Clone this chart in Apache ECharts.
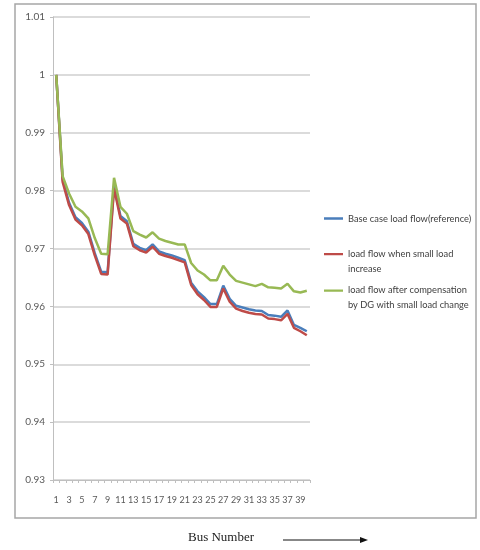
<!DOCTYPE html>
<html>
<head>
<meta charset="utf-8">
<script src="https://cdn.jsdelivr.net/npm/echarts@6/dist/echarts.min.js"></script>
<style>
html,body{margin:0;padding:0;background:#fff;}
#chart{width:480px;height:550px;}
</style>
</head>
<body>
<div id="chart"></div>
<script>
var buses = [];
for (var i = 1; i <= 40; i++) buses.push(String(i));

var baseCase = [1.0000, 0.9820, 0.9779, 0.9754, 0.9744, 0.9729, 0.9692, 0.9660, 0.9659, 0.9808,
                0.9756, 0.9747, 0.9708, 0.9701, 0.9697, 0.9707, 0.9695, 0.9691, 0.9688, 0.9684,
                0.9680, 0.9641, 0.9626, 0.9616, 0.9604, 0.9604, 0.9636, 0.9613, 0.9601, 0.9598,
                0.9595, 0.9593, 0.9592, 0.9585, 0.9584, 0.9582, 0.9593, 0.9568, 0.9563, 0.9557];

var smallLoadIncrease = [1.0000, 0.9815, 0.9775, 0.9750, 0.9740, 0.9725, 0.9688, 0.9656, 0.9655, 0.9804,
                0.9752, 0.9743, 0.9704, 0.9697, 0.9693, 0.9703, 0.9691, 0.9687, 0.9684, 0.9680,
                0.9676, 0.9637, 0.9621, 0.9611, 0.9599, 0.9599, 0.9631, 0.9608, 0.9596, 0.9592,
                0.9589, 0.9587, 0.9586, 0.9579, 0.9578, 0.9576, 0.9587, 0.9563, 0.9557, 0.9550];

var withDG = [1.0000, 0.9825, 0.9795, 0.9772, 0.9764, 0.9752, 0.9718, 0.9691, 0.9690, 0.9822,
                0.9772, 0.9760, 0.9730, 0.9724, 0.9719, 0.9728, 0.9717, 0.9713, 0.9710, 0.9707,
                0.9707, 0.9675, 0.9662, 0.9655, 0.9645, 0.9645, 0.9670, 0.9655, 0.9644, 0.9641,
                0.9638, 0.9635, 0.9639, 0.9633, 0.9632, 0.9631, 0.9639, 0.9626, 0.9624, 0.9627];

var seriesNames = [
  'Base case load flow(reference)',
  'load flow when small load\nincrease',
  'load flow after compensation\nby DG with small load change'
];
var seriesColors = ['#4a7ebb', '#be4b48', '#98b954'];

var yMin = 0.93, yMax = 1.01, yStep = 0.01;
var xTitle = 'Bus Number';

var chart = echarts.init(document.getElementById('chart'), null, {renderer: 'canvas'});

var legendText = {fontFamily: 'Lato', fontSize: 9.3, color: '#404040', lineHeight: 15};
// line icon drawn at the top of a taller box so it lines up with the first text line
var topLineIcon = 'path://M0,0L20,0L20,2.5L0,2.5Z M0,17L0.001,17L0.001,17.001Z';

var option = {
  animation: false,
  backgroundColor: '#fff',
  title: {
    text: xTitle,
    left: 188, top: 531, padding: 0,
    textStyle: {fontFamily: 'Liberation Serif', fontSize: 13, fontWeight: 'normal', color: '#222'}
  },
  grid: {left: 53, right: 170, top: 17, bottom: 70},
  legend: [
    {data: [seriesNames[0]], top: 211, left: 324, padding: 0, itemWidth: 19, itemHeight: 2.5,
     icon: 'rect', textStyle: legendText},
    {data: [seriesNames[1]], top: 246, left: 324, padding: 0, itemWidth: 19, itemHeight: 17,
     icon: topLineIcon, textStyle: legendText},
    {data: [seriesNames[2]], top: 282.5, left: 324, padding: 0, itemWidth: 19, itemHeight: 17,
     icon: topLineIcon, textStyle: legendText}
  ],
  xAxis: {
    type: 'category',
    data: buses,
    boundaryGap: true,
    axisLine: {lineStyle: {color: '#bfbfbf', width: 1}},
    axisTick: {show: true, interval: 0, length: 3, lineStyle: {color: '#bfbfbf'}},
    axisLabel: {interval: 1, margin: 16, fontFamily: 'Lato', fontSize: 9, color: '#595959'},
    splitLine: {show: false}
  },
  yAxis: {
    type: 'value',
    min: yMin, max: yMax, interval: yStep,
    axisLine: {show: true, lineStyle: {color: '#bfbfbf', width: 1}},
    axisTick: {show: true, length: 3, lineStyle: {color: '#bfbfbf'}},
    axisLabel: {
      margin: 8, fontFamily: 'Lato', fontSize: 10, color: '#595959',
      formatter: function (v) { return String(parseFloat(v.toFixed(2))); }
    },
    splitLine: {show: true, lineStyle: {color: '#cfcfcf', width: 1.5}}
  },
  series: [baseCase, smallLoadIncrease, withDG].map(function (d, k) {
    return {
      name: seriesNames[k],
      type: 'line',
      data: d,
      symbol: 'none',
      showSymbol: false,
      color: seriesColors[k],
      lineStyle: {width: 2.5, color: seriesColors[k]},
      z: 2 + k
    };
  }),
  graphic: [
    {type: 'rect', shape: {x: 15, y: 4, width: 461, height: 514},
     style: {fill: 'none', stroke: '#a6a6a6', lineWidth: 1.5}, silent: true, z: -1},
    {type: 'line', shape: {x1: 283, y1: 540, x2: 362, y2: 540},
     style: {stroke: '#111', lineWidth: 1}},
    {type: 'polygon', shape: {points: [[360, 537], [368, 540], [360, 543]]},
     style: {fill: '#111'}}
  ]
};
chart.setOption(option);
</script>
</body>
</html>
